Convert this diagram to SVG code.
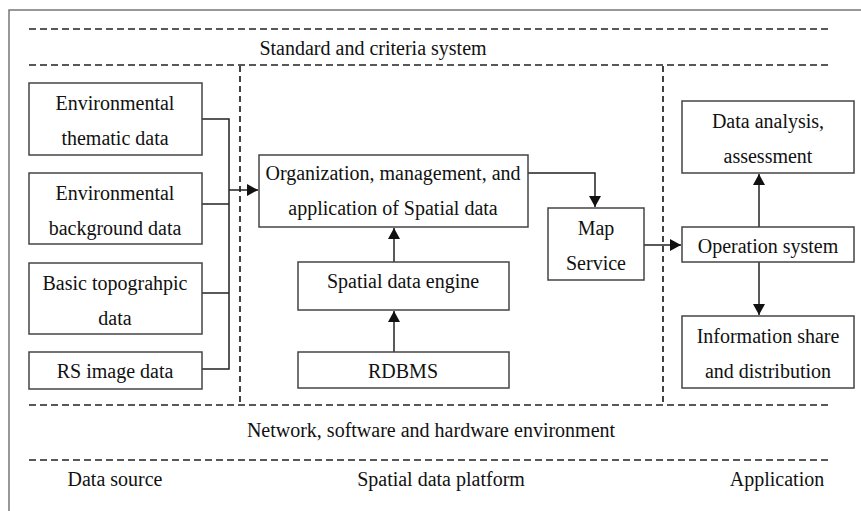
<svg xmlns="http://www.w3.org/2000/svg" width="861" height="511" viewBox="0 0 861 511">
<style>
text{font-family:"Liberation Serif","DejaVu Serif","Times New Roman",serif;font-size:20px;fill:#111;text-anchor:middle}
.box{fill:#fff;stroke:#444;stroke-width:1.5}
.dash{stroke:#222;stroke-width:1.7;stroke-dasharray:7 4;fill:none}
.vdash{stroke:#222;stroke-width:1.7;stroke-dasharray:6 4;fill:none}
.conn{stroke:#222;stroke-width:1.5;fill:none}
</style>
<defs>
<marker id="ah" markerWidth="11" markerHeight="12" refX="11" refY="6" orient="auto" markerUnits="userSpaceOnUse">
<path d="M0,0 L11,6 L0,12 Z" fill="#111"/>
</marker>
</defs>
<rect x="0" y="0" width="861" height="511" fill="#fff"/>
<rect x="9" y="10" width="870" height="520" fill="none" stroke="#777" stroke-width="1.5"/>
<g id="layers">
<line class="dash" x1="29" y1="29" x2="832" y2="29"/>
<line class="dash" x1="29" y1="65" x2="832" y2="65"/>
<line class="dash" x1="29" y1="405" x2="832" y2="405"/>
<line class="dash" x1="29" y1="460" x2="832" y2="460"/>
<line class="vdash" x1="240" y1="66" x2="240" y2="405"/>
<line class="vdash" x1="663" y1="66" x2="663" y2="405"/>
<text x="373" y="55">Standard and criteria system</text>
<text x="431" y="437">Network, software and hardware environment</text>
<text x="115" y="486">Data source</text>
<text x="441" y="486">Spatial data platform</text>
<text x="777" y="486">Application</text>
</g>
<g id="connectors">
<polyline class="conn" points="199,119 229,119 229,369 199,369"/>
<line class="conn" x1="199" y1="204" x2="229" y2="204"/>
<line class="conn" x1="199" y1="293" x2="229" y2="293"/>
<line class="conn" x1="229" y1="190" x2="258" y2="190" marker-end="url(#ah)"/>
<line class="conn" x1="394" y1="262" x2="394" y2="228" marker-end="url(#ah)"/>
<line class="conn" x1="394" y1="352" x2="394" y2="311" marker-end="url(#ah)"/>
<polyline class="conn" points="525,173 595,173 595,207" marker-end="url(#ah)"/>
<line class="conn" x1="644" y1="245" x2="681" y2="245" marker-end="url(#ah)"/>
<line class="conn" x1="759" y1="227" x2="759" y2="174" marker-end="url(#ah)"/>
<line class="conn" x1="759" y1="262" x2="759" y2="315" marker-end="url(#ah)"/>
</g>
<g id="env-thematic"><rect class="box" x="29" y="83" width="173" height="72"/><text x="115" y="110">Environmental</text><text x="115" y="145">thematic data</text></g>
<g id="env-background"><rect class="box" x="29" y="173" width="173" height="71"/><text x="115" y="200">Environmental</text><text x="115" y="235">background data</text></g>
<g id="topographic"><rect class="box" x="29" y="263" width="173" height="71"/><text x="115" y="290">Basic topograhpic</text><text x="115" y="325">data</text></g>
<g id="rs-image"><rect class="box" x="29" y="352" width="173" height="37"/><text x="115" y="378">RS image data</text></g>
<g id="organization"><rect class="box" x="259" y="155" width="269" height="72"/><text x="393" y="180">Organization, management, and</text><text x="393" y="215">application of Spatial data</text></g>
<g id="engine"><rect class="box" x="298" y="262" width="211" height="48"/><text x="403" y="288">Spatial data engine</text></g>
<g id="rdbms"><rect class="box" x="298" y="352" width="211" height="36"/><text x="403" y="378">RDBMS</text></g>
<g id="map-service"><rect class="box" x="548" y="208" width="96" height="72"/><text x="596" y="235">Map</text><text x="596" y="270">Service</text></g>
<g id="operation"><rect class="box" x="682" y="227" width="172" height="35"/><text x="768" y="253">Operation system</text></g>
<g id="analysis"><rect class="box" x="682" y="101" width="172" height="72"/><text x="768" y="128">Data analysis,</text><text x="768" y="163">assessment</text></g>
<g id="share"><rect class="box" x="682" y="316" width="172" height="72"/><text x="768" y="343">Information share</text><text x="768" y="378">and distribution</text></g>
</svg>
